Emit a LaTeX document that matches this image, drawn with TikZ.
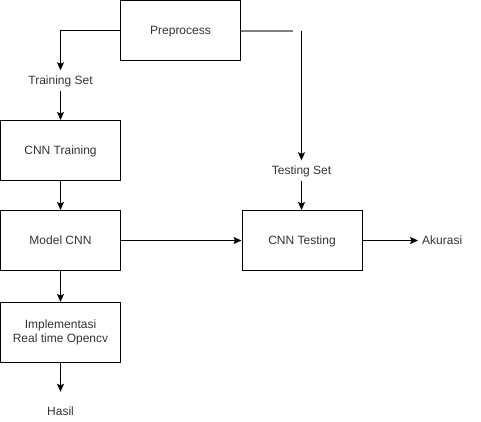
\documentclass[tikz,border=0pt]{standalone}
\usepackage{fontspec}
\setmainfont{Liberation Sans}
\usetikzlibrary{arrows.meta}
\begin{document}
\begin{tikzpicture}[x=1pt,y=-1pt,
  every node/.style={font=\fontsize{12}{14}\selectfont, text=black!80},
  capc/.style={text height=8.6pt, text depth=0pt},
  box/.style={draw=black, line width=1pt, minimum width=120pt, minimum height=60pt, inner sep=0pt, align=center},
  lbl/.style={inner sep=0pt, minimum height=20pt, capc},
  arr/.style={line width=1pt, -{Stealth[length=8pt,width=7pt,inset=1.5pt]}},
  plain/.style={line width=1pt}]
\useasboundingbox (0,0) rectangle (481,421);
\node[box,capc] (pre) at (180.5,30.5) {Preprocess};
\node[lbl] (train) at (60.5,80.5) {Training Set};
\node[box,capc] (cnntr) at (60.5,150.5) {CNN Training};
\node[box,capc] (model) at (60.5,240.5) {Model CNN};
\node[box] (impl) at (60.5,332.5) {Implementasi\\Real time Opencv};
\node[inner sep=0pt, minimum height=38pt, capc] (hasil) at (60.5,411) {Hasil};
\node[lbl] (test) at (301.5,170.5) {Testing Set};
\node[box,capc] (cnnte) at (302,240.5) {CNN Testing};
\node[anchor=west, inner xsep=4pt, inner ysep=0pt, capc] (akur) at (418,240.5) {Akurasi};
\coordinate (g1) at (293,30.5);
\coordinate (g2) at (301.5,30.5);
\draw[arr] (pre.west) -| (train.north);
\draw[arr] (train.south) -- (cnntr.north);
\draw[arr] (cnntr.south) -- (model.north);
\draw[arr] (model.south) -- (impl.north);
\draw[arr] (impl.south) -- (hasil.north);
\draw[arr] (model.east) -- (cnnte.west);
\draw[arr] (cnnte.east) -- (akur.west);
\draw[line width=2pt, draw=black!50] (pre.east) -- (g1);
\draw[arr] (g2) -- (test.north);
\draw[arr] (test.south) -- (test.south |- cnnte.north);
\end{tikzpicture}
\end{document}
